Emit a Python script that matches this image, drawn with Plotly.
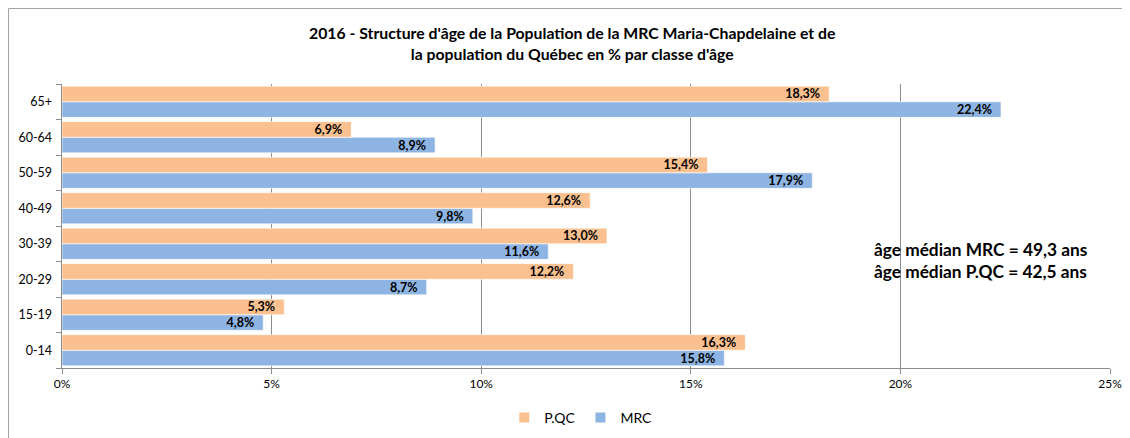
import plotly.graph_objects as go

categories = ["0-14", "15-19", "20-29", "30-39", "40-49", "50-59", "60-64", "65+"]
pqc_values = [16.3, 5.3, 12.2, 13.0, 12.6, 15.4, 6.9, 18.3]
mrc_values = [15.8, 4.8, 8.7, 11.6, 9.8, 17.9, 8.9, 22.4]
x_ticks = [0, 5, 10, 15, 20, 25]
x_tick_labels = ["0%", "5%", "10%", "15%", "20%", "25%"]
title_text = "2016 - Structure d'âge de la Population de la MRC Maria-Chapdelaine et de<br>la population du Québec en % par classe d'âge"
note_text = "âge médian MRC = 49,3 ans<br>âge médian P.QC = 42,5 ans"

FONT = "Lato"
ORANGE = "#FAC08F"
BLUE = "#8EB4E3"
GRID = "#8C8C8C"


def fmt(v):
    return f"{v:.1f}".replace(".", ",") + "%\u00a0\u00a0"


fig = go.Figure()
fig.add_trace(go.Bar(
    y=categories, x=mrc_values, name="MRC", orientation="h",
    marker=dict(color=BLUE, line=dict(color="white", width=0.6)),
    text=[fmt(v) for v in mrc_values], textposition="inside",
    insidetextanchor="end", textangle=0, constraintext="none",
    textfont=dict(family=FONT, size=12.5, color="black", weight="bold"),
))
fig.add_trace(go.Bar(
    y=categories, x=pqc_values, name="P.QC", orientation="h",
    marker=dict(color=ORANGE, line=dict(color="white", width=0.6)),
    text=[fmt(v) for v in pqc_values], textposition="inside",
    insidetextanchor="end", textangle=0, constraintext="none",
    textfont=dict(family=FONT, size=12.5, color="black", weight="bold"),
))

fig.update_layout(
    width=1122, height=430,
    margin=dict(l=54, r=20, t=76, b=70, autoexpand=False),
    paper_bgcolor="white", plot_bgcolor="white",
    barmode="group", bargap=0.12, bargroupgap=0,
    font=dict(family=FONT, size=12, color="black"),
    showlegend=True,
    legend=dict(orientation="h", x=0.495, xanchor="center", y=-0.176, yanchor="middle",
                traceorder="reversed", font=dict(size=14, family=FONT),
                itemwidth=30, itemsizing="constant"),
    xaxis=dict(range=[0, 25], tickmode="array", tickvals=x_ticks, ticktext=x_tick_labels,
               showgrid=True, gridcolor=GRID, gridwidth=1,
               showline=True, linecolor=GRID, linewidth=1,
               ticks="outside", ticklen=5, tickcolor=GRID, automargin=False,
               zeroline=False, tickfont=dict(size=12, family=FONT)),
    yaxis=dict(categoryorder="array", categoryarray=categories,
               showline=True, linecolor=GRID, linewidth=1, automargin=False,
               ticks="outside", ticklen=5, tickcolor=GRID, tickson="boundaries",
               showgrid=False, ticksuffix="  ", tickfont=dict(size=12.5, family=FONT)),
)

fig.add_annotation(text="<b>" + title_text + "</b>", xref="paper", yref="paper",
                   x=0.487, y=1.144, xanchor="center", yanchor="middle",
                   showarrow=False, font=dict(size=15.8, family=FONT, color="black"))
fig.add_annotation(text="<b>" + note_text + "</b>", xref="paper", yref="paper",
                   x=0.773, y=0.377, xanchor="left", yanchor="middle", align="left",
                   showarrow=False, font=dict(size=17.3, family=FONT, color="black"))
fig.add_shape(type="rect", xref="paper", yref="paper",
              x0=-0.051, x1=1.0124, y0=-0.3, y1=1.266,
              line=dict(color="#A0A0A0", width=1), layer="below")

fig.write_html("out.html")
